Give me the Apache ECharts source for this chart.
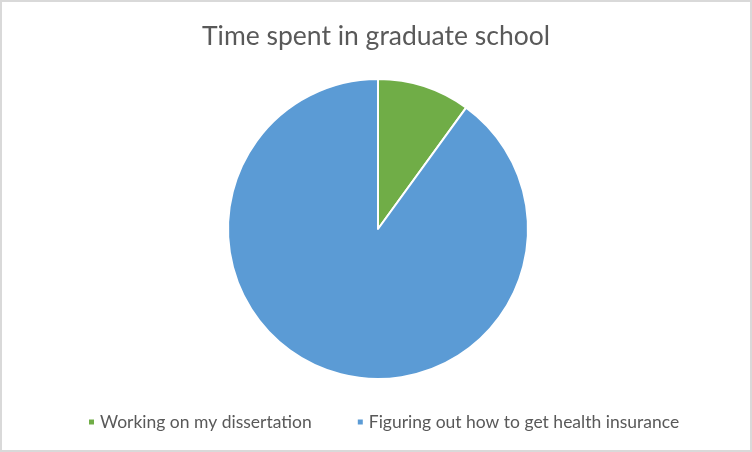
<!DOCTYPE html>
<html>
<head>
<meta charset="utf-8">
<script src="https://cdn.jsdelivr.net/npm/echarts@6/dist/echarts.min.js"></script>
<style>
html,body{margin:0;padding:0;background:#fff;}
#wrap{width:752px;height:452px;box-sizing:border-box;border:2px solid #d9d9d9;position:relative;}
#c{position:absolute;left:-2px;top:-2px;width:752px;height:452px;}
</style>
</head>
<body>
<div id="wrap"><div id="c"></div></div>
<script>
const categories = ["Working on my dissertation", "Figuring out how to get health insurance"];
const values = [10, 90];
const colors = ["#70AD47", "#5B9BD5"];
const titleText = "Time spent in graduate school";

const chart = echarts.init(document.getElementById('c'), null, {renderer: 'canvas'});
chart.setOption({
  animation: false,
  backgroundColor: 'transparent',
  title: {
    text: titleText,
    left: 'center',
    top: 18,
    textStyle: {fontFamily: 'Lato', fontSize: 26.5, fontWeight: 'normal', color: '#595959'}
  },
  legend: {
    data: categories,
    left: 82,
    top: 408,
    icon: 'rect',
    itemWidth: 7,
    itemHeight: 7,
    itemGap: 44,
    textStyle: {fontFamily: 'Lato', fontSize: 17.5, color: '#595959'}
  },
  series: [{
    type: 'pie',
    center: [378, 229],
    radius: 150,
    startAngle: 90,
    clockwise: true,
    label: {show: false},
    labelLine: {show: false},
    emphasis: {disabled: true},
    itemStyle: {borderColor: '#ffffff', borderWidth: 2},
    data: categories.map((n, i) => ({name: n, value: values[i], itemStyle: {color: colors[i]}}))
  }]
});
</script>
</body>
</html>
